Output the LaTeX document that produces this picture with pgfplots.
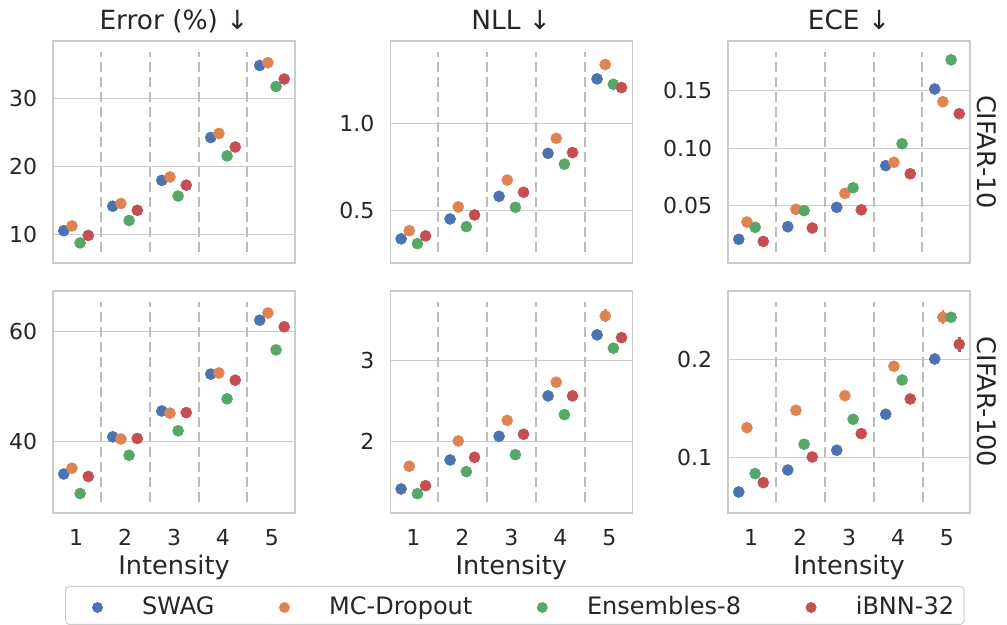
\documentclass[border=0pt]{standalone}
\usepackage{fontspec}
\setmainfont{DejaVu Sans}
\usepackage{pgfplots}
\usepackage{pgfplotstable}
\pgfplotsset{compat=1.18}
\definecolor{cB}{HTML}{4C72B0}
\definecolor{cO}{HTML}{DD8452}
\definecolor{cG}{HTML}{55A868}
\definecolor{cR}{HTML}{C44E52}
\definecolor{txt}{HTML}{262626}
\definecolor{frm}{HTML}{CCCCCC}
\definecolor{dsh}{HTML}{BDBDBD}

\pgfplotstableread{
i swag mc ens ibnn
1 10.6 11.3 8.8 9.9
2 14.2 14.6 12.1 13.6
3 18.0 18.5 15.7 17.3
4 24.3 24.9 21.6 22.9
5 34.9 35.3 31.8 32.9
}\errA
\pgfplotstableread{
i swag mc ens ibnn
1 0.340 0.387 0.313 0.357
2 0.454 0.523 0.410 0.477
3 0.584 0.677 0.521 0.607
4 0.830 0.916 0.768 0.834
5 1.256 1.338 1.225 1.206
}\nllA
\pgfplotstableread{
i swag swagE mc ens ibnn
1 0.0209 0 0.0359 0.0313 0.0191
2 0.0318 0 0.0469 0.0457 0.0307
3 0.0486 0 0.0607 0.0656 0.0465
4 0.0847 0 0.0876 0.1037 0.0777
5 0.1511 0.0045 0.1401 0.1764 0.1297
}\eceA
\pgfplotstableread{
i swag mc ens ibnn
1 34.05 35.1 30.5 33.6
2 40.8 40.4 37.45 40.5
3 45.5 45.1 41.9 45.2
4 52.2 52.4 47.7 51.1
5 62.0 63.3 56.6 60.8
}\errB
\pgfplotstableread{
i swag mc mcE ens ibnn
1 1.406 1.689 0 1.348 1.447
2 1.767 2.004 0 1.622 1.800
3 2.062 2.260 0 1.833 2.087
4 2.564 2.735 0 2.331 2.564
5 3.324 3.560 0.08 3.158 3.290
}\nllB
\pgfplotstableread{
i swag mc mcE ens ibnn ibnnE
1 0.0643 0.1304 0 0.0832 0.0739 0
2 0.0869 0.1483 0 0.1134 0.1003 0
3 0.1072 0.1633 0 0.1390 0.1243 0
4 0.1442 0.1935 0 0.1794 0.1599 0
5 0.2010 0.2439 0.007 0.2439 0.2161 0.008
}\eceB

\pgfplotsset{
  every axis title/.style={at={(0.5,1)}, anchor=base, yshift=5.5pt,
    font=\fontsize{13.2}{16}\selectfont, text=txt},
  panel/.style={
    scale only axis, width=121pt, height=111pt,
    anchor=north west,
    xmin=0.53, xmax=5.47, xtick={1,2,3,4,5},
    major tick length=0pt,
    axis line style={draw=frm, line width=0.65pt},
    ymajorgrids, grid style={frm, line width=0.5pt},
    tick label style={font=\fontsize{11}{13}\selectfont, text=txt, inner sep=0pt},
    /pgf/number format/assume math mode=true,
    yticklabel shift=7.75pt, xticklabel shift=8pt,
    xticklabel style={anchor=north},
    xlabel style={font=\fontsize{12.8}{15}\selectfont, text=txt, at={(0.5,-0.275)}, anchor=base},
    clip=false,
  },
  sty/.style={only marks, mark=*, color=#1, mark size=2.75pt,
    mark options={line width=0.3pt, draw=#1, fill=#1},
    legend image code/.code={\path[draw=none] (0pt,0pt) -- (13.2pt,0pt); \draw[##1, draw=none, mark size=2.55pt] plot coordinates {(11pt,-1pt)};},
    error bars/.cd, y dir=both, y explicit, error mark=none,
    error bar style={line width=1.3pt, color=#1}},
}
\newcommand{\dashes}{%
  \pgfplotsinvokeforeach{1.5,2.5,3.5,4.5}{%
    \draw[dsh, line width=1pt, dash pattern=on 5pt off 2.5pt]
      ({axis cs:##1,0}|-{rel axis cs:0,0.05}) -- ({axis cs:##1,0}|-{rel axis cs:0,0.95});}}
\newcommand{\four}[1]{%
  \addplot[sty=cB] table[x expr=\thisrow{i}-0.25, y=swag] {#1};
  \addplot[sty=cO] table[x expr=\thisrow{i}-0.0833, y=mc] {#1};
  \addplot[sty=cG] table[x expr=\thisrow{i}+0.0833, y=ens] {#1};
  \addplot[sty=cR] table[x expr=\thisrow{i}+0.25, y=ibnn] {#1};}

\begin{document}
\begin{tikzpicture}
\useasboundingbox (0,0) rectangle (503.5pt,-312.5pt);
% ---------- top row ----------
\begin{axis}[panel, at={(26.5pt,-20.5pt)}, xticklabels={},
  ymin=5.85, ymax=38.5, ytick={10,20,30}, yticklabels={10,20,30},
  title={Error (\%) ↓}]
\dashes
\four{\errA}
\end{axis}
\begin{axis}[panel, at={(195.15pt,-20.5pt)}, xticklabels={},
  ymin=0.202, ymax=1.473, ytick={0.5,1.0}, yticklabels={0.5,1.0},
  title={NLL ↓}]
\dashes
\four{\nllA}
\end{axis}
\begin{axis}[panel, at={(364pt,-20.5pt)}, xticklabels={},
  ymin=0.0004, ymax=0.1927, ytick={0.05,0.10,0.15}, yticklabels={0.05,0.10,0.15},
  title={ECE ↓}]
\dashes
\addplot[sty=cB] table[x expr=\thisrow{i}-0.25, y=swag, y error=swagE] {\eceA};
\addplot[sty=cO] table[x expr=\thisrow{i}-0.0833, y=mc] {\eceA};
\addplot[sty=cG] table[x expr=\thisrow{i}+0.0833, y=ens] {\eceA};
\addplot[sty=cR] table[x expr=\thisrow{i}+0.25, y=ibnn] {\eceA};
\node[rotate=-90, anchor=base, font=\fontsize{12.8}{15}\selectfont, text=txt]
  at ([xshift=3.5pt]rel axis cs:1,0.5) {CIFAR-10};
\end{axis}
% ---------- bottom row ----------
\begin{axis}[panel, at={(26.5pt,-145.5pt)},
  ymin=26.96, ymax=67.3, ytick={40,60}, yticklabels={40,60},
  xlabel={Intensity},
  legend columns=4,
  legend style={at={(0.0496,-0.3288)}, anchor=north west, draw=frm, line width=0.5pt,
    rounded corners=2pt, fill=white, font=\fontsize{12}{14}\selectfont, text=txt,
    inner xsep=5pt, inner ysep=5pt,
    nodes={inner sep=0pt, text height=9pt, text depth=0pt},
    /tikz/every odd column/.style={column sep=19.8pt},
    /tikz/every even column/.style={column sep=24pt}}]
\dashes
\four{\errB}
\legend{SWAG, MC-Dropout, Ensembles-8, iBNN-32}
\end{axis}
\begin{axis}[panel, at={(195.15pt,-145.5pt)},
  ymin=1.107, ymax=3.87, ytick={2,3}, yticklabels={2,3},
  xlabel={Intensity}]
\dashes
\addplot[sty=cB] table[x expr=\thisrow{i}-0.25, y=swag] {\nllB};
\addplot[sty=cO] table[x expr=\thisrow{i}-0.0833, y=mc, y error=mcE] {\nllB};
\addplot[sty=cG] table[x expr=\thisrow{i}+0.0833, y=ens] {\nllB};
\addplot[sty=cR] table[x expr=\thisrow{i}+0.25, y=ibnn] {\nllB};
\end{axis}
\begin{axis}[panel, at={(364pt,-145.5pt)},
  ymin=0.0427, ymax=0.2709, ytick={0.1,0.2}, yticklabels={0.1,0.2},
  xlabel={Intensity}]
\dashes
\addplot[sty=cB] table[x expr=\thisrow{i}-0.25, y=swag] {\eceB};
\addplot[sty=cO] table[x expr=\thisrow{i}-0.0833, y=mc, y error=mcE] {\eceB};
\addplot[sty=cG] table[x expr=\thisrow{i}+0.0833, y=ens] {\eceB};
\addplot[sty=cR] table[x expr=\thisrow{i}+0.25, y=ibnn, y error=ibnnE] {\eceB};
\node[rotate=-90, anchor=base, font=\fontsize{12.8}{15}\selectfont, text=txt]
  at ([xshift=3.5pt]rel axis cs:1,0.5) {CIFAR-100};
\end{axis}
\end{tikzpicture}
\end{document}
